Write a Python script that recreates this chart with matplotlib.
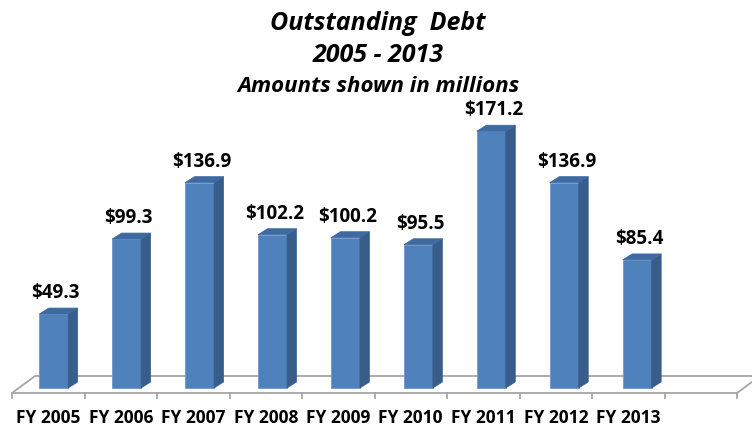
#import Libraries
import numpy as np
import matplotlib
matplotlib.use("Agg")
from matplotlib import pyplot as plt
from matplotlib.patches import Polygon
##################################################

# data (millions of dollars)
years = ["FY 2005", "FY 2006", "FY 2007", "FY 2008", "FY 2009",
         "FY 2010", "FY 2011", "FY 2012", "FY 2013"]
debt = [49.3, 99.3, 136.9, 102.2, 100.2, 95.5, 171.2, 136.9, 85.4]
value_labels = ["$49.3", "$99.3", "$136.9", "$102.2", "$100.2",
                "$95.5", "$171.2", "$136.9", "$85.4"]
n_slots = 10
##################################################

plt.rcParams['font.family'] = ['Open Sans', 'DejaVu Sans']

W, H = 752, 429
fig = plt.figure(figsize=(W / 100, H / 100), dpi=100)
fig.patch.set_facecolor("white")

# axes placed so one slot = 72.5 px, 1 unit = 1.5 px
px_per_unit = 1.5
ax_h = 250 * px_per_unit
ax = fig.add_axes([12 / W, 41 / H, 725 / W, ax_h / H])
ax.set_xlim(0, n_slots)
ax.set_ylim(0, 250)
ax.axis("off")

u = 1.0 / px_per_unit        # one pixel in y units
slot_px = 72.5               # one slot in pixels

#floor of the 3D box
front_y = -5 * u
back_y = 12 * u
depth_x = 23 / slot_px
floor = Polygon([(0, front_y), (n_slots, front_y),
                 (n_slots + depth_x, back_y), (depth_x, back_y)],
                closed=True, facecolor="white", edgecolor="#a6a6a6",
                linewidth=1.3, clip_on=False, zorder=1)
ax.add_patch(floor)
for k in range(n_slots + 1):
    ax.plot([k, k], [front_y, front_y - 5 * u], color="#a6a6a6",
            linewidth=1.3, clip_on=False, zorder=1)
##################################################

#bars: front face, side face, top cap
front_col = "#4f81bd"
side_col = "#385d8a"
top_col = "#3d6aa0"
bar_w = 0.4
side_dx = 9.5 / slot_px
side_dy = 6 * u

for i, v in enumerate(debt):
    left = i + 0.375 + 0.006 * i
    right = left + bar_w
    ax.bar(left, v, width=bar_w, align="edge", color=front_col,
           edgecolor="#6f98cc", linewidth=0.6, zorder=3, clip_on=False)
    side = Polygon([(right, 0), (right + side_dx, side_dy),
                    (right + side_dx, v + side_dy), (right, v)],
                   closed=True, facecolor=side_col, edgecolor=side_col,
                   linewidth=0.5, zorder=3, clip_on=False)
    top = Polygon([(left, v), (right, v), (right + side_dx, v + side_dy),
                   (left + side_dx, v + side_dy)],
                  closed=True, facecolor=top_col, edgecolor=top_col,
                  linewidth=0.5, zorder=3, clip_on=False)
    ax.add_patch(side)
    ax.add_patch(top)
    ax.text(left + bar_w / 2 + 0.03, v + 21 * u, value_labels[i],
            ha="center", va="center", fontsize=13.5, fontweight="bold",
            color="black", zorder=4)

#category labels
for i, lab in enumerate(years):
    ax.text(i + 0.5, -30 * u, lab, ha="center", va="center",
            fontsize=12.5, fontweight="bold", color="black")
##################################################

#titles
fig.text(378 / W, 1 - 23 / H, "Outstanding  Debt", ha="center", va="center",
         fontsize=18, fontweight="bold", style="italic")
fig.text(378 / W, 1 - 56 / H, "2005 - 2013", ha="center", va="center",
         fontsize=18, fontweight="bold", style="italic")
fig.text(378 / W, 1 - 87 / H, "Amounts shown in millions", ha="center",
         va="center", fontsize=16, fontweight="bold", style="italic")

plt.savefig("out.png", dpi=100, facecolor="white")
